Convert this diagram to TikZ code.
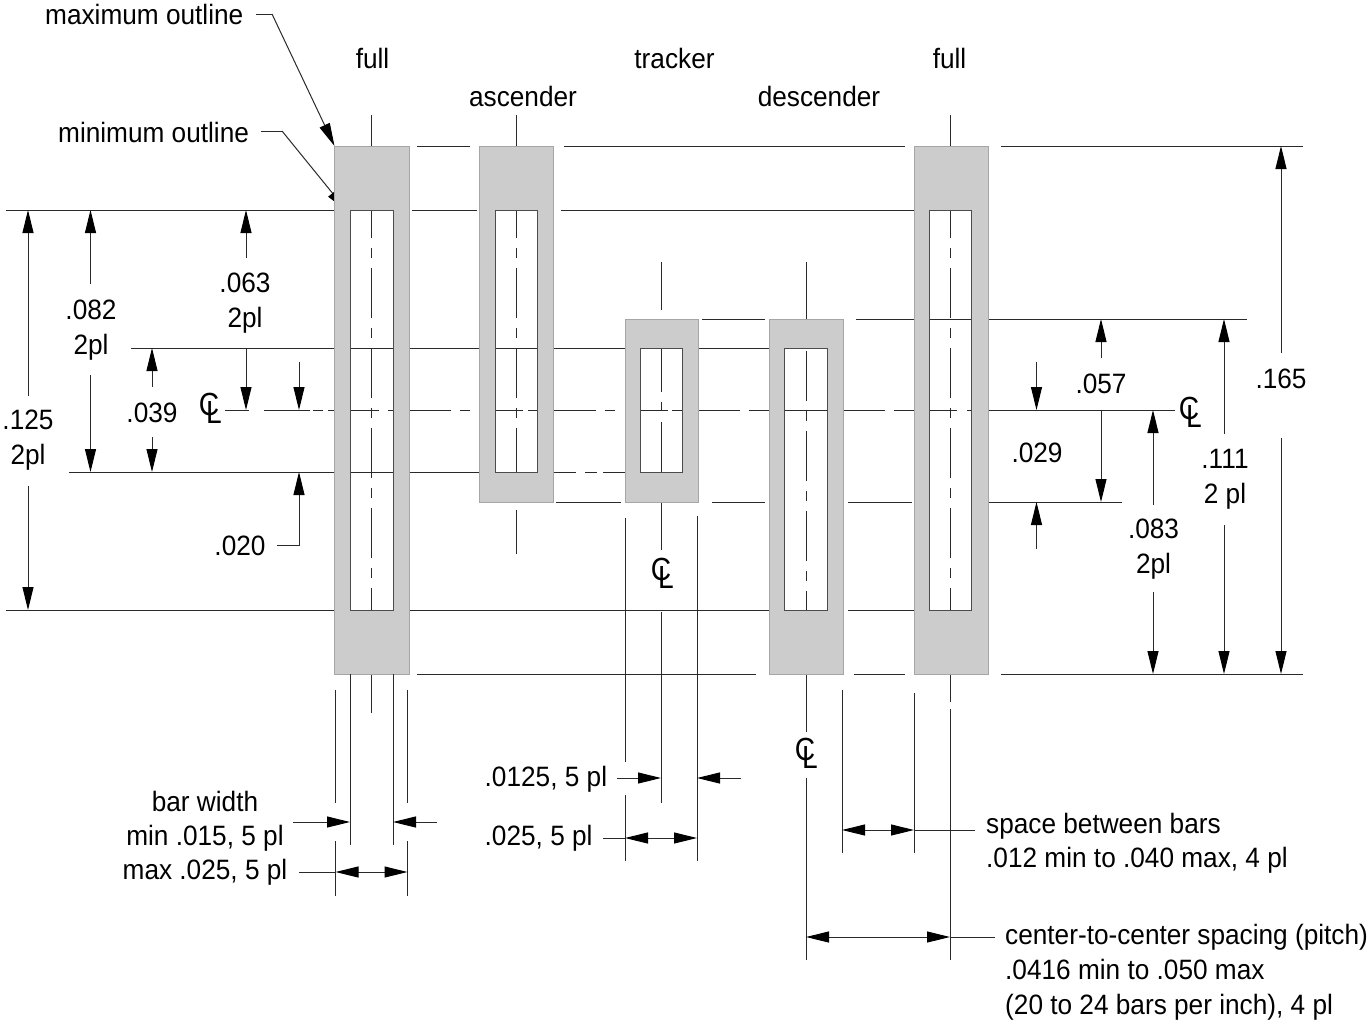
\documentclass[tikz,border=0pt]{standalone}
\usepackage{fontspec}
\setmainfont[FakeStretch=0.936]{Liberation Sans}
\newfontfamily\clfont[FakeStretch=0.88]{Liberation Sans}
\usetikzlibrary{arrows.meta}
\definecolor{barfill}{HTML}{CCCCCC}
\definecolor{inkline}{HTML}{2A2A2A}
\newcommand{\clmark}{C\kern-12.9pt\raisebox{-8pt}{L}}
\begin{document}
\begin{tikzpicture}[x=1pt,y=-1pt,
    line/.style={draw=inkline,line width=1pt},
    cline/.style={line,dash pattern=on 50pt off 10pt on 10pt off 10pt},
    dim/.style={line,-{Triangle[length=23pt,width=11pt,color=black]}},
    dimboth/.style={line,{Triangle[length=23pt,width=11pt,color=black]}-{Triangle[length=23pt,width=11pt,color=black]}},
    bar/.style={fill=barfill,even odd rule},
    baredge/.style={draw=black!35,line width=.6pt},
    hole/.style={draw=black!70,line width=.9pt},
    tight/.style={font=\fontsize{28}{34}\selectfont},
    clsym/.style={anchor=base west,font=\clfont\fontsize{32}{32}\selectfont}]
  \tikzset{every node/.style={inner sep=0pt,text=black,font=\fontsize{28}{35}\selectfont}}
  \useasboundingbox (0,0) rectangle (1369,1021);
  % extension lines
  \draw[line] (417,146) -- (470,146) (564,146) -- (905,146) (1001,146) -- (1303,146);
  \draw[line] (6,210) -- (334,210) (412,210) -- (477,210) (561,210) -- (916,210);
  \draw[line] (702,319) -- (765,319) (856,319) -- (1247,319);
  \draw[line] (131,348) -- (625,348) (698,348) -- (769,348);
  \draw[line] (69,472) -- (576,472) (585,472) -- (597,472) (603,472) -- (625,472);
  \draw[line] (556,502) -- (621,502) (712,502) -- (765,502) (848,502) -- (912,502) (989,502) -- (1122,502);
  \draw[line] (6,610) -- (769,610) (848,610) -- (914,610);
  \draw[line] (417,674) -- (756,674) (854,674) -- (905,674) (1001,674) -- (1303,674);
  % center line of the bars
  \draw[line] (225,410) -- (249,410) (264,410) -- (310,410) (313,410) -- (323,410) (328,410) -- (379,410)
    (388,410) -- (451,410) (460,410) -- (470,410) (479,410) -- (523,410) (528,410) -- (596,410)
    (605,410) -- (615,410) (625,410) -- (668,410) (672,410) -- (740,410) (749,410) -- (885,410)
    (894,410) -- (957,410) (967,410) -- (1175,410);
  % center lines, one per bar
  \draw[line] (371.5,115) -- (371.5,146) (371.5,674) -- (371.5,713);
  \draw[cline,dash phase=22pt] (371.5,210) -- (371.5,610);
  \draw[line] (516,115) -- (516,146) (516,510) -- (516,554);
  \draw[cline,dash phase=22pt] (516,210) -- (516,472);
  \draw[line] (661,262) -- (661,310) (661,502) -- (661,550) (661,612) -- (661,803);
  \draw[line] (661,348) -- (661,392) (661,402) -- (661,411) (661,422) -- (661,472);
  \draw[line] (806,262) -- (806,319) (806,674) -- (806,732) (806,778) -- (806,960);
  \draw[cline] (806,351) -- (806,610);
  \draw[line] (950,115) -- (950,146) (950,674) -- (950,702) (950,709) -- (950,960);
  \draw[cline,dash phase=22pt] (950,210) -- (950,610);
  % leader under the first bar
  \draw[line] (256,14) -- (272,14);
  \draw[dim] (272,14) -- (334.5,146);
  \draw[line] (261,131) -- (282,131);
  \draw[dim] (282,131) -- (347,211);
  % bars
  \fill[bar] (334,146) rectangle (409,674) (350,210) rectangle (393,610);
  \fill[bar] (479,146) rectangle (553,502) (495,210) rectangle (537,472);
  \fill[bar] (625,319) rectangle (698,502) (640,348) rectangle (682,472);
  \fill[bar] (769,319) rectangle (843,674) (784,348) rectangle (827,610);
  \fill[bar] (914,146) rectangle (988,674) (929,210) rectangle (971,610);
  \draw[baredge] (334,146) rectangle (409,674);
  \draw[baredge] (479,146) rectangle (553,502);
  \draw[baredge] (625,319) rectangle (698,502);
  \draw[baredge] (769,319) rectangle (843,674);
  \draw[baredge] (914,146) rectangle (988,674);
  \draw[hole] (350,210) rectangle (393,610);
  \draw[hole] (495,210) rectangle (537,472);
  \draw[hole] (640,348) rectangle (682,472);
  \draw[hole] (784,348) rectangle (827,610);
  \draw[hole] (929,210) rectangle (971,610);
  % left dimensions
  \draw[dim] (28,396) -- (28,210);
  \draw[dim] (28,486) -- (28,610);
  \draw[dim] (90.5,284) -- (90.5,210);
  \draw[dim] (90.5,375) -- (90.5,472);
  \draw[dim] (246,258) -- (246,210);
  \draw[dim] (246,348) -- (246,410);
  \draw[dim] (152,387) -- (152,348);
  \draw[dim] (152,437) -- (152,472);
  \draw[dim] (299,362) -- (299,410);
  \draw[dim] (277,545.5) -| (299,472);
  % right dimensions
  \draw[dim] (1101,358) -- (1101,319);
  \draw[dim] (1101,410) -- (1101,502);
  \draw[dim] (1036.5,362) -- (1036.5,410);
  \draw[dim] (1036.5,549) -- (1036.5,502);
  \draw[dim] (1153,505) -- (1153,410);
  \draw[dim] (1153,592) -- (1153,674);
  \draw[dim] (1224,434) -- (1224,319);
  \draw[dim] (1224,525) -- (1224,674);
  \draw[dim] (1281,353) -- (1281,146);
  \draw[dim] (1281,438) -- (1281,674);
  % lower extension lines
  \draw[line] (335.5,690) -- (335.5,803) (335.5,841) -- (335.5,896);
  \draw[line] (407.5,690) -- (407.5,803) (407.5,841) -- (407.5,896);
  \draw[line] (350,674) -- (350,845) (393,674) -- (393,845);
  \draw[line] (625,518) -- (625,762) (625,795) -- (625,861);
  \draw[line] (697,516) -- (697,861);
  \draw[line] (842,690) -- (842,853) (914,693) -- (914,853);
  % lower dimensions
  \draw[dim] (293,822) -- (350,822);
  \draw[dim] (437,822) -- (393,822);
  \draw[line] (299,872) -- (335.5,872);
  \draw[dimboth] (335.5,872) -- (407.5,872);
  \draw[dim] (617,778) -- (661,778);
  \draw[dim] (741,778) -- (697,778);
  \draw[line] (603,838) -- (625,838);
  \draw[dimboth] (625,838) -- (697,838);
  \draw[dimboth] (842,830) -- (914,830);
  \draw[line] (914,830) -- (975,830);
  \draw[dimboth] (806,937) -- (950,937);
  \draw[line] (950,937) -- (995,937);
  % labels
  \node[anchor=base west] (maxout) at (45,24.5) {maximum outline};
  \node[anchor=base west] (minout) at (58,142) {minimum outline};
  \node[anchor=base] (fulla) at (372.5,68.5) {full};
  \node[anchor=base] (asc) at (523,106) {ascender};
  \node[anchor=base] (trk) at (674.5,68.5) {tracker};
  \node[anchor=base] (dsc) at (819,106) {descender};
  \node[anchor=base] (fullb) at (949.5,68.5) {full};
  \node[align=center] (d063) at (245,303) {.063\\2pl};
  \node[align=center] (d082) at (91,330) {.082\\2pl};
  \node[align=center] (d125) at (28,440.5) {.125\\2pl};
  \node[anchor=base] (d039) at (152,422) {.039};
  \node[anchor=base] (d020) at (240,555) {.020};
  \node[anchor=base] (d057) at (1101,393) {.057};
  \node[anchor=base] (d029) at (1037,462) {.029};
  \node[anchor=base] (d165) at (1281,388) {.165};
  \node[align=center] (d111) at (1225,479.5) {.111\\2 pl};
  \node[align=center] (d083) at (1153.5,549.5) {.083\\2pl};
  \node[align=center,tight] (barw) at (205,838) {bar width\\min .015, 5 pl\\max .025, 5 pl};
  \node[anchor=base west] (d0125) at (484.5,786) {.0125, 5 pl};
  \node[anchor=base west] (d025) at (484.5,845) {.025, 5 pl};
  \node[anchor=west,align=left,tight] (space) at (986,843.5) {space between bars\\.012 min to .040 max, 4 pl};
  \node[anchor=west,align=left] (pitch) at (1005,972.5) {center-to-center spacing (pitch)\\.0416 min to .050 max\\(20 to 24 bars per inch), 4 pl};
  \node[clsym] (cla) at (198.6,415) {\clmark};
  \node[clsym] (clb) at (650.6,580) {\clmark};
  \node[clsym] (clc) at (794.6,760) {\clmark};
  \node[clsym] (cld) at (1178.6,419) {\clmark};
\end{tikzpicture}
\end{document}
